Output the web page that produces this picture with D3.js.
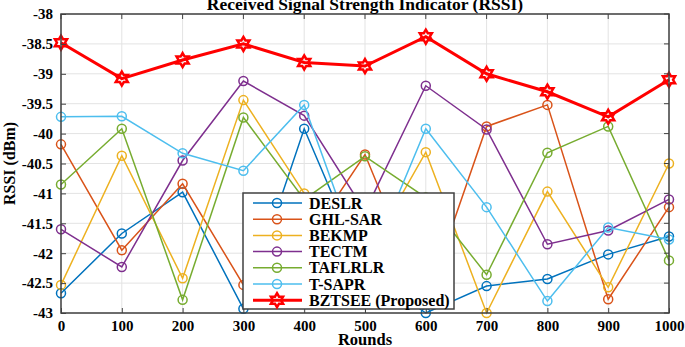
<!DOCTYPE html>
<html>
<head>
  <title>RSSI</title>
  <style>
    body { margin: 0; background: #fff; }
    svg text { font-family: "Liberation Serif", "Times New Roman", serif; font-weight: bold; fill: #000; }
  </style>
</head>
<body>
  <svg id="chart" width="685" height="347"></svg>

  <script src="https://d3js.org/d3.v7.min.js"></script>
  <script>
    // Data
    const rounds = [0, 100, 200, 300, 400, 500, 600, 700, 800, 900, 1000];
    const yTicks = [-38, -38.5, -39, -39.5, -40, -40.5, -41, -41.5, -42, -42.5, -43];

    const deslr   = [-42.67, -41.67, -40.98, -42.93, -39.92, -42.3, -43.0, -42.55, -42.43, -42.02, -41.72];
    const ghlSar  = [-40.18, -41.95, -40.84, -42.53, -41.87, -40.35, -42.82, -39.88, -39.52, -42.77, -41.23];
    const bekmp   = [-42.53, -40.37, -42.42, -39.44, -41.0, -42.1, -40.31, -43.0, -40.97, -42.57, -40.5];
    const tectm   = [-41.6, -42.23, -40.45, -39.12, -39.7, -41.3, -39.2, -39.93, -41.85, -41.62, -41.1];
    const taflrlr = [-40.85, -39.92, -42.78, -39.73, -41.1, -40.38, -41.07, -42.36, -40.32, -39.88, -42.12];
    const tSapr   = [-39.72, -39.71, -40.33, -40.62, -39.52, -42.35, -39.92, -41.23, -42.8, -41.57, -41.77];
    const bztsee  = [-38.48, -39.08, -38.77, -38.5, -38.81, -38.87, -38.38, -39.0, -39.3, -39.72, -39.1];

    const seriesNames = ['DESLR', 'GHL-SAR', 'BEKMP', 'TECTM', 'TAFLRLR', 'T-SAPR', 'BZTSEE (Proposed)'];
    const seriesValues = [deslr, ghlSar, bekmp, tectm, taflrlr, tSapr, bztsee];
    const seriesColors = ['#0072BD', '#D95319', '#EDB120', '#7E2F8E', '#77AC30', '#4DBEEE', '#FF0000'];

    const svg = d3.select('#chart');
    const margin = { top: 14, right: 16, bottom: 34, left: 61 };
    const width = +svg.attr('width') - margin.left - margin.right;
    const height = +svg.attr('height') - margin.top - margin.bottom;
    const g = svg.append('g').attr('transform', `translate(${margin.left},${margin.top})`);

    const x = d3.scaleLinear().domain([0, 1000]).range([0, width]);
    const y = d3.scaleLinear().domain([-43, -38]).range([height, 0]);

    // grid
    g.append('g').selectAll('line').data(rounds).enter().append('line')
      .attr('x1', d => x(d)).attr('x2', d => x(d))
      .attr('y1', 0).attr('y2', height)
      .attr('stroke', '#e3e3e3').attr('stroke-width', 1);
    g.append('g').selectAll('line').data(yTicks).enter().append('line')
      .attr('x1', 0).attr('x2', width)
      .attr('y1', d => y(d)).attr('y2', d => y(d))
      .attr('stroke', '#e3e3e3').attr('stroke-width', 1);

    // six-pointed star (hexagram) symbol
    function hexagram(r) {
      const pts = [];
      for (let i = 0; i < 12; i++) {
        const a = -Math.PI / 2 + i * Math.PI / 6;
        const rr = i % 2 === 0 ? r : r / Math.sqrt(3);
        pts.push([rr * Math.cos(a), rr * Math.sin(a)]);
      }
      return 'M' + pts.map(p => p.join(',')).join('L') + 'Z';
    }

    const line = d3.line().x((d, i) => x(rounds[i])).y(d => y(d));

    seriesValues.forEach((vals, k) => {
      const isMain = k === 6;
      const sg = g.append('g');
      sg.append('path')
        .datum(vals)
        .attr('d', line)
        .attr('fill', 'none')
        .attr('stroke', seriesColors[k])
        .attr('stroke-width', isMain ? 3 : 1.5);
      if (isMain) {
        sg.selectAll('path.mk').data(vals).enter().append('path')
          .attr('class', 'mk')
          .attr('transform', (d, i) => `translate(${x(rounds[i])},${y(d)})`)
          .attr('d', hexagram(7))
          .attr('fill', 'none')
          .attr('stroke', seriesColors[k])
          .attr('stroke-width', 2.5);
      } else {
        sg.selectAll('circle').data(vals).enter().append('circle')
          .attr('cx', (d, i) => x(rounds[i]))
          .attr('cy', d => y(d))
          .attr('r', 4.5)
          .attr('fill', 'none')
          .attr('stroke', seriesColors[k])
          .attr('stroke-width', 1.5);
      }
    });

    // axes
    const xAxis = d3.axisBottom(x).tickValues(rounds).tickSize(-5).tickPadding(7).tickFormat(d3.format('d'));
    const yAxis = d3.axisLeft(y).tickValues(yTicks).tickSize(-5).tickPadding(8).tickFormat(d => d);
    const gx = g.append('g').attr('transform', `translate(0,${height})`).call(xAxis);
    const gy = g.append('g').call(yAxis);
    [gx, gy].forEach(a => {
      a.select('.domain').remove();
      a.selectAll('line').attr('stroke', '#404040');
      a.selectAll('text').style('font-size', '15px').attr('fill', '#000');
    });
    // top and right ticks
    g.append('g').selectAll('line').data(rounds).enter().append('line')
      .attr('x1', d => x(d)).attr('x2', d => x(d)).attr('y1', 0).attr('y2', 5)
      .attr('stroke', '#404040');
    g.append('g').selectAll('line').data(yTicks).enter().append('line')
      .attr('x1', width - 5).attr('x2', width).attr('y1', d => y(d)).attr('y2', d => y(d))
      .attr('stroke', '#404040');

    // frame
    g.append('rect').attr('x', 0).attr('y', 0).attr('width', width).attr('height', height)
      .attr('fill', 'none').attr('stroke', '#404040').attr('stroke-width', 1.5);

    // labels
    svg.append('text').attr('x', margin.left + width / 2).attr('y', 10)
      .attr('text-anchor', 'middle').style('font-size', '17.5px')
      .text('Received Signal Strength Indicator (RSSI)');
    svg.append('text').attr('x', margin.left + width / 2).attr('y', 345)
      .attr('text-anchor', 'middle').style('font-size', '16.5px')
      .text('Rounds');
    svg.append('text').attr('transform', `translate(15,${margin.top + height / 2}) rotate(-90)`)
      .attr('text-anchor', 'middle').style('font-size', '16px')
      .text('RSSI (dBm)');

    // legend
    const lg = svg.append('g').attr('transform', 'translate(243,193)');
    lg.append('rect').attr('width', 211).attr('height', 116)
      .attr('fill', '#fff').attr('stroke', '#404040').attr('stroke-width', 1.5);
    seriesNames.forEach((name, k) => {
      const ly = 10 + k * 16.2;
      const isMain = k === 6;
      lg.append('line').attr('x1', 10).attr('x2', 59).attr('y1', ly).attr('y2', ly)
        .attr('stroke', seriesColors[k]).attr('stroke-width', isMain ? 3 : 1.5);
      if (isMain) {
        lg.append('path').attr('transform', `translate(34,${ly})`).attr('d', hexagram(7))
          .attr('fill', 'none').attr('stroke', seriesColors[k]).attr('stroke-width', 2.5);
      } else {
        lg.append('circle').attr('cx', 34).attr('cy', ly).attr('r', 4.5)
          .attr('fill', 'none').attr('stroke', seriesColors[k]).attr('stroke-width', 1.5);
      }
      lg.append('text').attr('x', 66).attr('y', ly).attr('dy', '0.35em')
        .style('font-size', '16px').text(name);
    });
  </script>
</body>
</html>
